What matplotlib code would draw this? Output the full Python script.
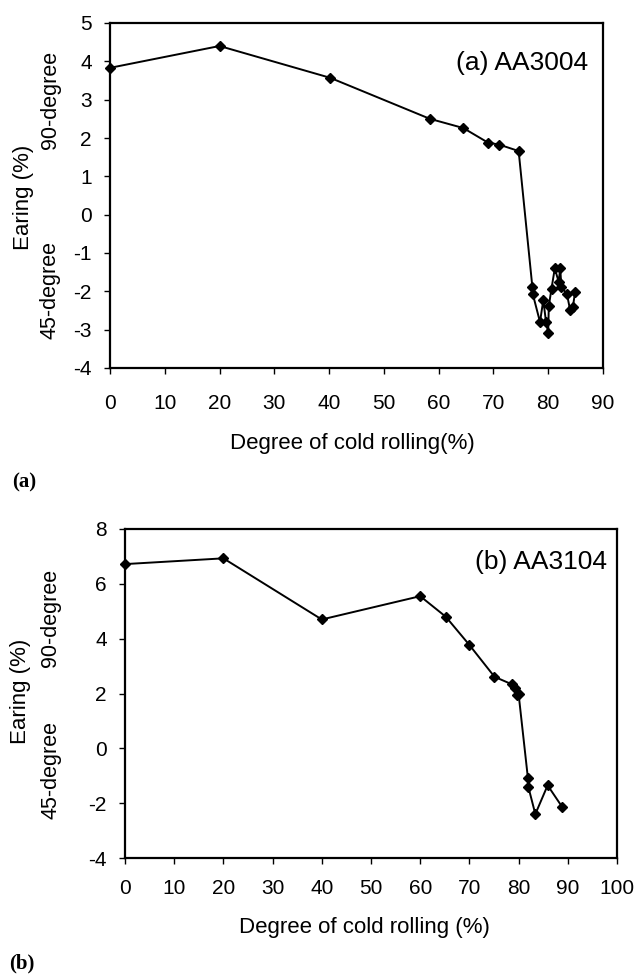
import matplotlib
matplotlib.use('Agg')
import matplotlib.pyplot as plt

plt.rcParams['font.family'] = ['Liberation Sans', 'DejaVu Sans']
plt.rcParams['axes.unicode_minus'] = False

# (a) AA3004
rolling_a = [0, 20, 40.2, 58.4, 64.5, 69.0, 71.0, 74.6,
             77.1, 77.2, 78.5, 79.1, 79.6, 80.0, 80.1, 80.6,
             81.2, 81.9, 82.2, 82.4, 83.4, 84.0, 84.5, 84.9]
earing_a = [3.83, 4.40, 3.57, 2.50, 2.26, 1.88, 1.83, 1.66,
            -1.88, -2.08, -2.80, -2.23, -2.80, -3.09, -2.39, -1.93,
            -1.40, -1.75, -1.40, -1.90, -2.06, -2.49, -2.41, -2.02]

# (b) AA3104
rolling_b = [0, 20, 40, 60, 65.2, 70, 75.1, 78.7, 79.2, 79.6, 80.0,
             81.9, 82.0, 83.4, 85.9, 88.9]
earing_b = [6.72, 6.93, 4.70, 5.55, 4.80, 3.77, 2.61, 2.33, 2.19, 1.95, 1.98,
            -1.10, -1.42, -2.40, -1.35, -2.15]

W, H = 639, 977
fig = plt.figure(figsize=(W / 100, H / 100), dpi=100)


def px_axes(left, top, right, bottom):
    return fig.add_axes([left / W, 1 - bottom / H, (right - left) / W, (bottom - top) / H])


def style(ax, xmax, ylim, ystep, xpad):
    ax.set_xlim(0, xmax)
    ax.set_ylim(*ylim)
    ax.set_xticks(range(0, xmax + 1, 10))
    ax.set_yticks(range(ylim[0], ylim[1] + 1, ystep))
    for s in ax.spines.values():
        s.set_linewidth(1.6)
    ax.tick_params(direction='out', length=4, width=1.0, labelsize=15)
    ax.tick_params(axis='x', pad=xpad)
    ax.tick_params(axis='y', pad=9)


ax1 = px_axes(110, 23, 603, 368)
ax1.plot(rolling_a, earing_a, color='black', lw=1.4, marker='D', ms=5.5, clip_on=False)
style(ax1, 90, (-4, 5), 1, 15)
ax1.text(0.97, 0.885, '(a) AA3004', transform=ax1.transAxes, ha='right', va='center', fontsize=19)

ax2 = px_axes(125, 529, 617, 858)
ax2.plot(rolling_b, earing_b, color='black', lw=1.4, marker='D', ms=5.5, clip_on=False)
style(ax2, 100, (-4, 8), 2, 11)
ax2.text(0.98, 0.90, '(b) AA3104', transform=ax2.transAxes, ha='right', va='center', fontsize=19)


def ftext(x, y, s, **kw):
    fig.text(x / W, 1 - y / H, s, ha='center', va='center', **kw)


# axis titles
ftext(24, 197, 'Earing (%)', rotation=90, fontsize=16)
ftext(50, 100, '90-degree', rotation=90, fontsize=15.5)
ftext(50, 290, '45-degree', rotation=90, fontsize=15.5)
ftext(352, 443, 'Degree of cold rolling(%)', fontsize=16)

ftext(21, 691, 'Earing (%)', rotation=90, fontsize=16)
ftext(51, 618, '90-degree', rotation=90, fontsize=15.5)
ftext(51, 770, '45-degree', rotation=90, fontsize=15.5)
ftext(364, 927, 'Degree of cold rolling (%)', fontsize=16)

ftext(24, 482, '(a)', fontsize=15, fontweight='bold', family='Liberation Serif')
ftext(22, 963, '(b)', fontsize=15, fontweight='bold', family='Liberation Serif')

fig.savefig('out.png', dpi=100)
